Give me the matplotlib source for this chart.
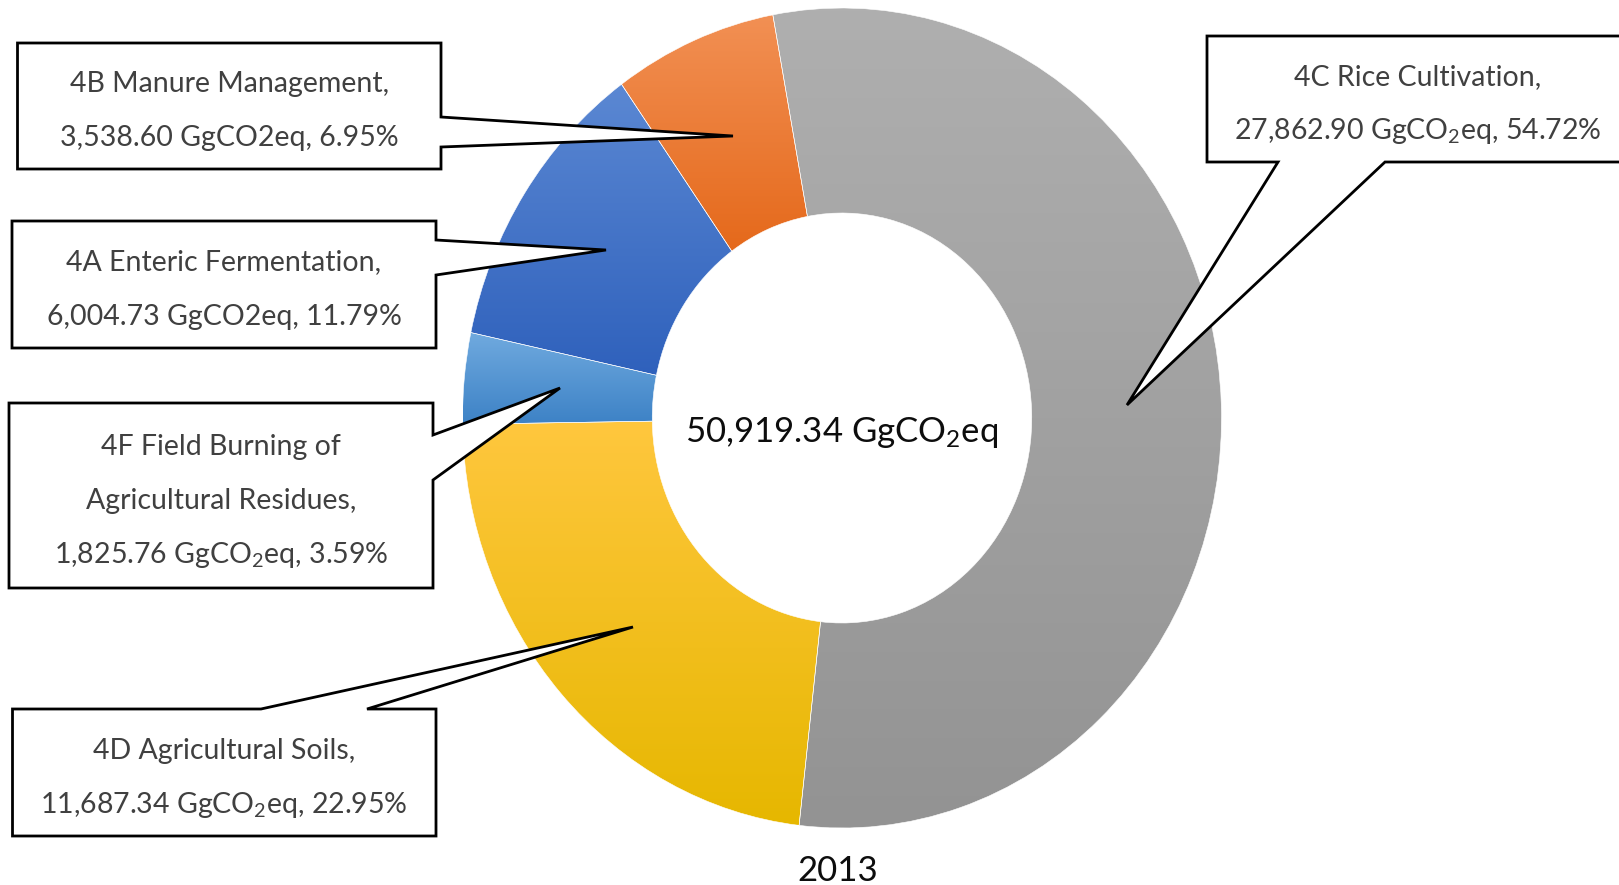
import numpy as np
import matplotlib
matplotlib.use('Agg')
import matplotlib.pyplot as plt
from matplotlib.colors import LinearSegmentedColormap
from matplotlib.patches import Polygon

plt.rcParams['font.family'] = ['Lato', 'DejaVu Sans']
plt.rcParams['mathtext.fontset'] = 'custom'
plt.rcParams['mathtext.rm'] = 'Lato'
plt.rcParams['mathtext.it'] = 'Lato:italic'
plt.rcParams['mathtext.bf'] = 'Lato:bold'

# slices, clockwise from the top
categories = ['4C Rice Cultivation', '4D Agricultural Soils',
              '4F Field Burning of\nAgricultural Residues',
              '4A Enteric Fermentation', '4B Manure Management']
emissions = [27862.90, 11687.34, 1825.76, 6004.73, 3538.60]
shares = [54.72, 22.95, 3.59, 11.79, 6.95]
units = ['GgCO$_2$eq', 'GgCO$_2$eq', 'GgCO$_2$eq', 'GgCO2eq', 'GgCO2eq']
total = 50919.34
year = '2013'

top_colors = ['#afafaf', '#ffc73e', '#70aadf', '#5b88d3', '#f29054']
bottom_colors = ['#939393', '#e6b700', '#3d82c6', '#2f61bc', '#e5691b']

W, H = 1619, 885
fig = plt.figure(figsize=(W / 100, H / 100), dpi=100)

# donut is a bit taller than wide in the original
cx, cy, rx, ry = 842, 418, 379.5, 410
ax = fig.add_axes([(cx - rx) / W, (H - cy - ry) / H, 2 * rx / W, 2 * ry / H])
wedges, _ = ax.pie(emissions, startangle=100.5, counterclock=False,
                   wedgeprops=dict(width=0.5, edgecolor='white', linewidth=0.4))

# vertical gradient per slice
ramp = np.linspace(0, 1, 256).reshape(-1, 1)
for w, c0, c1 in zip(wedges, top_colors, bottom_colors):
    bb = w.get_path().get_extents()
    cmap = LinearSegmentedColormap.from_list('g', [c0, c1])
    ax.imshow(ramp, cmap=cmap, extent=(bb.x0, bb.x1, bb.y0, bb.y1),
              origin='upper', aspect='auto', clip_path=w, zorder=1)
    w.set_facecolor('none')
    w.set_zorder(2)
ax.set_aspect('auto')
ax.set_xlim(-1, 1)
ax.set_ylim(-1, 1)
ax.axis('off')

# overlay in pixel coordinates for the callouts
ov = fig.add_axes([0, 0, 1, 1])
ov.set_xlim(0, W)
ov.set_ylim(H, 0)
ov.axis('off')
ov.patch.set_visible(False)

# box (left, top, right, bottom), side of pointer, pointer base, tip, text x
callouts = [
    ((1207, 36, 1625, 162), 'bottom', (1278, 1385), (1127, 405), 1418),
    ((12.5, 709, 436, 836), 'top', (261, 367), (633, 627), None),
    ((9, 403, 433, 588), 'right', (435, 480), (560, 388), None),
    ((12, 221, 436, 348), 'right', (240, 275), (606, 250), None),
    ((17.5, 43, 441, 169), 'right', (117, 147), (733, 136), None),
]


def callout(box, side, base, tip):
    l, t, r, b = box
    a0, a1 = base
    if side == 'right':
        pts = [(l, t), (r, t), (r, a0), tip, (r, a1), (r, b), (l, b)]
    elif side == 'top':
        pts = [(l, t), (a0, t), tip, (a1, t), (r, t), (r, b), (l, b)]
    else:
        pts = [(l, t), (r, t), (r, b), (a1, b), tip, (a0, b), (l, b)]
    ov.add_patch(Polygon(pts, closed=True, facecolor='white',
                         edgecolor='black', lw=2, joinstyle='miter'))


for i, (box, side, base, tip, tx) in enumerate(callouts):
    callout(box, side, base, tip)
    lines = categories[i].split('\n')
    lines[-1] += ','
    lines.append(f"{emissions[i]:,.2f} {units[i]}, {shares[i]:.2f}%")
    if tx is None:
        tx = (box[0] + box[2]) / 2
    mid = (box[1] + box[3]) / 2
    n = len(lines)
    for k, s in enumerate(lines):
        y = mid + (k - (n - 1) / 2) * 54 + 13
        ov.text(tx, y, s, ha='center', va='baseline', fontsize=20.5,
                color='#404040')

ov.text(cx, 442, f"{total:,.2f} GgCO$_2$eq", ha='center', va='baseline',
        fontsize=25, color='#0d0d0d')
ov.text(cx - 4, 881, year, ha='center', va='baseline', fontsize=25,
        color='#0d0d0d')

fig.savefig('out.png', dpi=100)
